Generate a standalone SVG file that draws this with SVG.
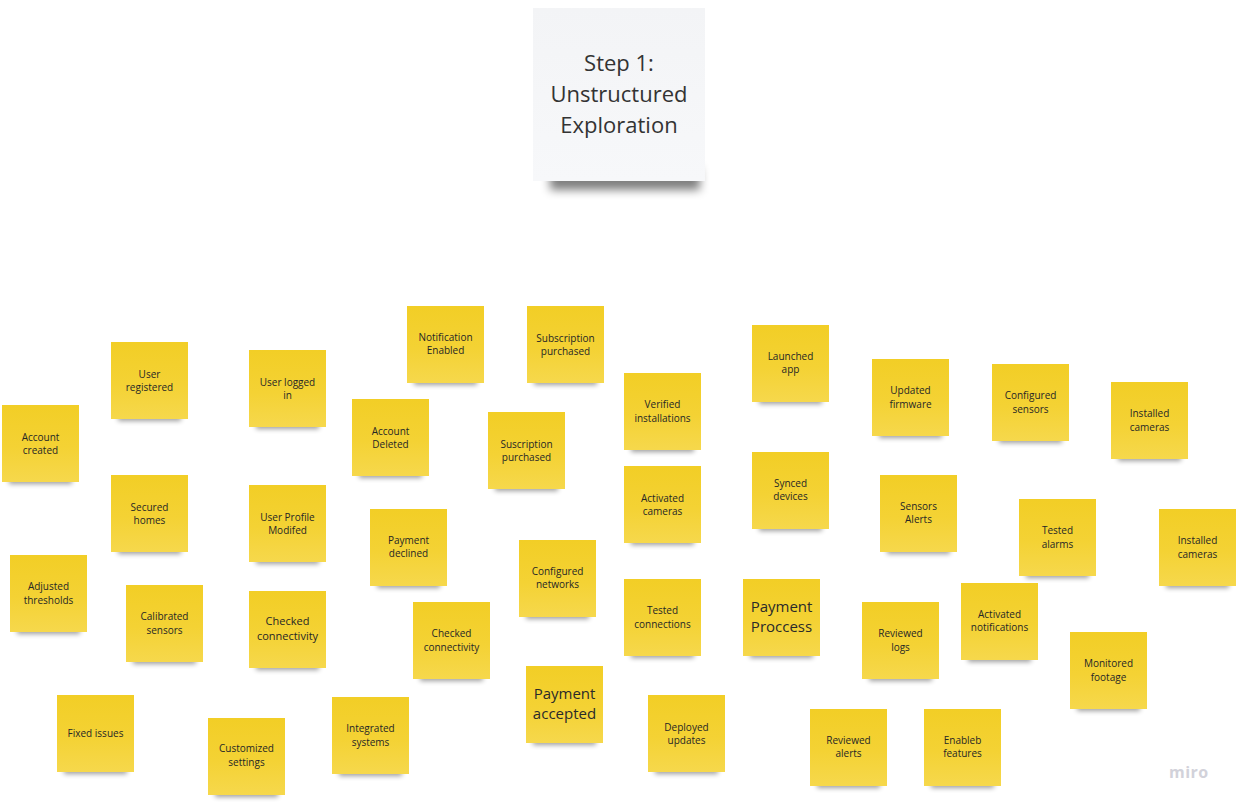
<svg xmlns="http://www.w3.org/2000/svg" width="1238" height="807" viewBox="0 0 1238 807">
<defs>
<linearGradient id="yg" x1="0" y1="0" x2="0" y2="1">
<stop offset="0" stop-color="#f2ce26"/>
<stop offset="0.55" stop-color="#f4d234"/>
<stop offset="1" stop-color="#f6d84c"/>
</linearGradient>
<linearGradient id="wg" x1="0" y1="0" x2="0" y2="1">
<stop offset="0" stop-color="#f3f4f6"/>
<stop offset="1" stop-color="#f7f8fa"/>
</linearGradient>
<filter id="blur" x="-20%" y="-100%" width="140%" height="300%">
<feGaussianBlur stdDeviation="2.5"/>
</filter>
<filter id="blur2" x="-20%" y="-100%" width="140%" height="300%">
<feGaussianBlur stdDeviation="5"/>
</filter>
</defs>
<style>
.note{fill:url(#yg);}
.sh{fill:#000;opacity:.38;filter:url(#blur);}
.t{font-family:"Open Sans","Noto Sans","DejaVu Sans",sans-serif;font-size:10px;fill:#262626;text-anchor:middle;}
.m{font-size:11px;}
.l{font-size:15px;fill:#2a2a2a;}
.title{font-family:"Open Sans","Noto Sans","DejaVu Sans",sans-serif;font-size:22px;fill:#333;text-anchor:middle;}
.miro{font-family:"Open Sans","Noto Sans","DejaVu Sans",sans-serif;font-size:16px;font-weight:bold;fill:#d2d2da;letter-spacing:0.5px;}
</style>
<rect width="1238" height="807" fill="#ffffff"/>

<g id="title">
<rect x="550" y="168" width="150" height="22" fill="#000" opacity=".5" filter="url(#blur2)"/>
<rect x="533" y="8" width="172" height="173" fill="url(#wg)"/>
<text class="title" x="619"><tspan x="619" y="71">Step 1:</tspan><tspan x="619" y="102">Unstructured</tspan><tspan x="619" y="133">Exploration</tspan></text>
</g>

<g id="connectors"></g>

<g id="account-created" transform="translate(2,405)"><rect class="sh" x="7" y="69" width="63" height="10"/><rect class="note" width="77" height="77"/><text class="t"><tspan x="38.5" y="35.5">Account</tspan><tspan x="38.5" y="48.5">created</tspan></text></g>
<g id="user-registered" transform="translate(111,342)"><rect class="sh" x="7" y="69" width="63" height="10"/><rect class="note" width="77" height="77"/><text class="t"><tspan x="38.5" y="35.5">User</tspan><tspan x="38.5" y="48.5">registered</tspan></text></g>
<g id="user-logged-in" transform="translate(249,350)"><rect class="sh" x="7" y="69" width="63" height="10"/><rect class="note" width="77" height="77"/><text class="t"><tspan x="38.5" y="35.5">User logged</tspan><tspan x="38.5" y="48.5">in</tspan></text></g>
<g id="account-deleted" transform="translate(352,399)"><rect class="sh" x="7" y="69" width="63" height="10"/><rect class="note" width="77" height="77"/><text class="t"><tspan x="38.5" y="35.5">Account</tspan><tspan x="38.5" y="48.5">Deleted</tspan></text></g>
<g id="secured-homes" transform="translate(111,475)"><rect class="sh" x="7" y="69" width="63" height="10"/><rect class="note" width="77" height="77"/><text class="t"><tspan x="38.5" y="35.5">Secured</tspan><tspan x="38.5" y="48.5">homes</tspan></text></g>
<g id="user-profile-modifed" transform="translate(249,485)"><rect class="sh" x="7" y="69" width="63" height="10"/><rect class="note" width="77" height="77"/><text class="t"><tspan x="38.5" y="35.5">User Profile</tspan><tspan x="38.5" y="48.5">Modifed</tspan></text></g>
<g id="notification-enabled" transform="translate(407,306)"><rect class="sh" x="7" y="69" width="63" height="10"/><rect class="note" width="77" height="77"/><text class="t"><tspan x="38.5" y="35">Notification</tspan><tspan x="38.5" y="48">Enabled</tspan></text></g>
<g id="subscription-purchased" transform="translate(527,306)"><rect class="sh" x="7" y="69" width="63" height="10"/><rect class="note" width="77" height="77"/><text class="t"><tspan x="38.5" y="35.5">Subscription</tspan><tspan x="38.5" y="49">purchased</tspan></text></g>
<g id="verified-installations" transform="translate(624,373)"><rect class="sh" x="7" y="69" width="63" height="10"/><rect class="note" width="77" height="77"/><text class="t"><tspan x="38.5" y="35">Verified</tspan><tspan x="38.5" y="49">installations</tspan></text></g>
<g id="suscription-purchased" transform="translate(488,412)"><rect class="sh" x="7" y="69" width="63" height="10"/><rect class="note" width="77" height="77"/><text class="t"><tspan x="38.5" y="35.5">Suscription</tspan><tspan x="38.5" y="48.5">purchased</tspan></text></g>
<g id="activated-cameras" transform="translate(624,466)"><rect class="sh" x="7" y="69" width="63" height="10"/><rect class="note" width="77" height="77"/><text class="t"><tspan x="38.5" y="35.5">Activated</tspan><tspan x="38.5" y="48.5">cameras</tspan></text></g>
<g id="payment-declined" transform="translate(370,509)"><rect class="sh" x="7" y="69" width="63" height="10"/><rect class="note" width="77" height="77"/><text class="t"><tspan x="38.5" y="34.5">Payment</tspan><tspan x="38.5" y="48">declined</tspan></text></g>
<g id="configured-networks" transform="translate(519,540)"><rect class="sh" x="7" y="69" width="63" height="10"/><rect class="note" width="77" height="77"/><text class="t"><tspan x="38.5" y="34.5">Configured</tspan><tspan x="38.5" y="47.5">networks</tspan></text></g>
<g id="checked-connectivity-2" transform="translate(413,602)"><rect class="sh" x="7" y="69" width="63" height="10"/><rect class="note" width="77" height="77"/><text class="t"><tspan x="38.5" y="34.5">Checked</tspan><tspan x="38.5" y="48.5">connectivity</tspan></text></g>
<g id="tested-connections" transform="translate(624,579)"><rect class="sh" x="7" y="69" width="63" height="10"/><rect class="note" width="77" height="77"/><text class="t"><tspan x="38.5" y="34.5">Tested</tspan><tspan x="38.5" y="48.5">connections</tspan></text></g>
<g id="payment-accepted" transform="translate(526,666)"><rect class="sh" x="7" y="69" width="63" height="10"/><rect class="note" width="77" height="77"/><text class="t l"><tspan x="38.5" y="33">Payment</tspan><tspan x="38.5" y="52.5">accepted</tspan></text></g>
<g id="deployed-updates" transform="translate(648,695)"><rect class="sh" x="7" y="69" width="63" height="10"/><rect class="note" width="77" height="77"/><text class="t"><tspan x="38.5" y="35.5">Deployed</tspan><tspan x="38.5" y="48.5">updates</tspan></text></g>
<g id="integrated-systems" transform="translate(332,697)"><rect class="sh" x="7" y="69" width="63" height="10"/><rect class="note" width="77" height="77"/><text class="t"><tspan x="38.5" y="34.5">Integrated</tspan><tspan x="38.5" y="48.5">systems</tspan></text></g>
<g id="customized-settings" transform="translate(208,718)"><rect class="sh" x="7" y="69" width="63" height="10"/><rect class="note" width="77" height="77"/><text class="t"><tspan x="38.5" y="33.5">Customized</tspan><tspan x="38.5" y="47.5">settings</tspan></text></g>
<g id="fixed-issues" transform="translate(57,695)"><rect class="sh" x="7" y="69" width="63" height="10"/><rect class="note" width="77" height="77"/><text class="t"><tspan x="38.5" y="41.5">Fixed issues</tspan></text></g>
<g id="adjusted-thresholds" transform="translate(10,555)"><rect class="sh" x="7" y="69" width="63" height="10"/><rect class="note" width="77" height="77"/><text class="t"><tspan x="38.5" y="35">Adjusted</tspan><tspan x="38.5" y="49">thresholds</tspan></text></g>
<g id="calibrated-sensors" transform="translate(126,585)"><rect class="sh" x="7" y="69" width="63" height="10"/><rect class="note" width="77" height="77"/><text class="t"><tspan x="38.5" y="35">Calibrated</tspan><tspan x="38.5" y="48.5">sensors</tspan></text></g>
<g id="checked-connectivity-1" transform="translate(249,591)"><rect class="sh" x="7" y="69" width="63" height="10"/><rect class="note" width="77" height="77"/><text class="t m"><tspan x="38.5" y="34">Checked</tspan><tspan x="38.5" y="49">connectivity</tspan></text></g>
<g id="launched-app" transform="translate(752,325)"><rect class="sh" x="7" y="69" width="63" height="10"/><rect class="note" width="77" height="77"/><text class="t"><tspan x="38.5" y="34.5">Launched</tspan><tspan x="38.5" y="47.5">app</tspan></text></g>
<g id="updated-firmware" transform="translate(872,359)"><rect class="sh" x="7" y="69" width="63" height="10"/><rect class="note" width="77" height="77"/><text class="t"><tspan x="38.5" y="34.5">Updated</tspan><tspan x="38.5" y="48.5">firmware</tspan></text></g>
<g id="configured-sensors" transform="translate(992,364)"><rect class="sh" x="7" y="69" width="63" height="10"/><rect class="note" width="77" height="77"/><text class="t"><tspan x="38.5" y="34.5">Configured</tspan><tspan x="38.5" y="48.5">sensors</tspan></text></g>
<g id="installed-cameras-1" transform="translate(1111,382)"><rect class="sh" x="7" y="69" width="63" height="10"/><rect class="note" width="77" height="77"/><text class="t"><tspan x="38.5" y="34.5">Installed</tspan><tspan x="38.5" y="48.5">cameras</tspan></text></g>
<g id="synced-devices" transform="translate(752,452)"><rect class="sh" x="7" y="69" width="63" height="10"/><rect class="note" width="77" height="77"/><text class="t"><tspan x="38.5" y="34.5">Synced</tspan><tspan x="38.5" y="47.5">devices</tspan></text></g>
<g id="sensors-alerts" transform="translate(880,475)"><rect class="sh" x="7" y="69" width="63" height="10"/><rect class="note" width="77" height="77"/><text class="t"><tspan x="38.5" y="35">Sensors</tspan><tspan x="38.5" y="48">Alerts</tspan></text></g>
<g id="tested-alarms" transform="translate(1019,499)"><rect class="sh" x="7" y="69" width="63" height="10"/><rect class="note" width="77" height="77"/><text class="t"><tspan x="38.5" y="34.5">Tested</tspan><tspan x="38.5" y="48.5">alarms</tspan></text></g>
<g id="installed-cameras-2" transform="translate(1159,509)"><rect class="sh" x="7" y="69" width="63" height="10"/><rect class="note" width="77" height="77"/><text class="t"><tspan x="38.5" y="34.5">Installed</tspan><tspan x="38.5" y="48.5">cameras</tspan></text></g>
<g id="payment-proccess" transform="translate(743,579)"><rect class="sh" x="7" y="69" width="63" height="10"/><rect class="note" width="77" height="77"/><text class="t l"><tspan x="38.5" y="33">Payment</tspan><tspan x="38.5" y="53">Proccess</tspan></text></g>
<g id="reviewed-logs" transform="translate(862,602)"><rect class="sh" x="7" y="69" width="63" height="10"/><rect class="note" width="77" height="77"/><text class="t"><tspan x="38.5" y="34.5">Reviewed</tspan><tspan x="38.5" y="48.5">logs</tspan></text></g>
<g id="activated-notifications" transform="translate(961,583)"><rect class="sh" x="7" y="69" width="63" height="10"/><rect class="note" width="77" height="77"/><text class="t"><tspan x="38.5" y="35">Activated</tspan><tspan x="38.5" y="48">notifications</tspan></text></g>
<g id="monitored-footage" transform="translate(1070,632)"><rect class="sh" x="7" y="69" width="63" height="10"/><rect class="note" width="77" height="77"/><text class="t"><tspan x="38.5" y="35">Monitored</tspan><tspan x="38.5" y="49">footage</tspan></text></g>
<g id="reviewed-alerts" transform="translate(810,709)"><rect class="sh" x="7" y="69" width="63" height="10"/><rect class="note" width="77" height="77"/><text class="t"><tspan x="38.5" y="35">Reviewed</tspan><tspan x="38.5" y="48">alerts</tspan></text></g>
<g id="enableb-features" transform="translate(924,709)"><rect class="sh" x="7" y="69" width="63" height="10"/><rect class="note" width="77" height="77"/><text class="t"><tspan x="38.5" y="35">Enableb</tspan><tspan x="38.5" y="48">features</tspan></text></g>

<text class="miro" x="1169" y="778">miro</text>
</svg>
